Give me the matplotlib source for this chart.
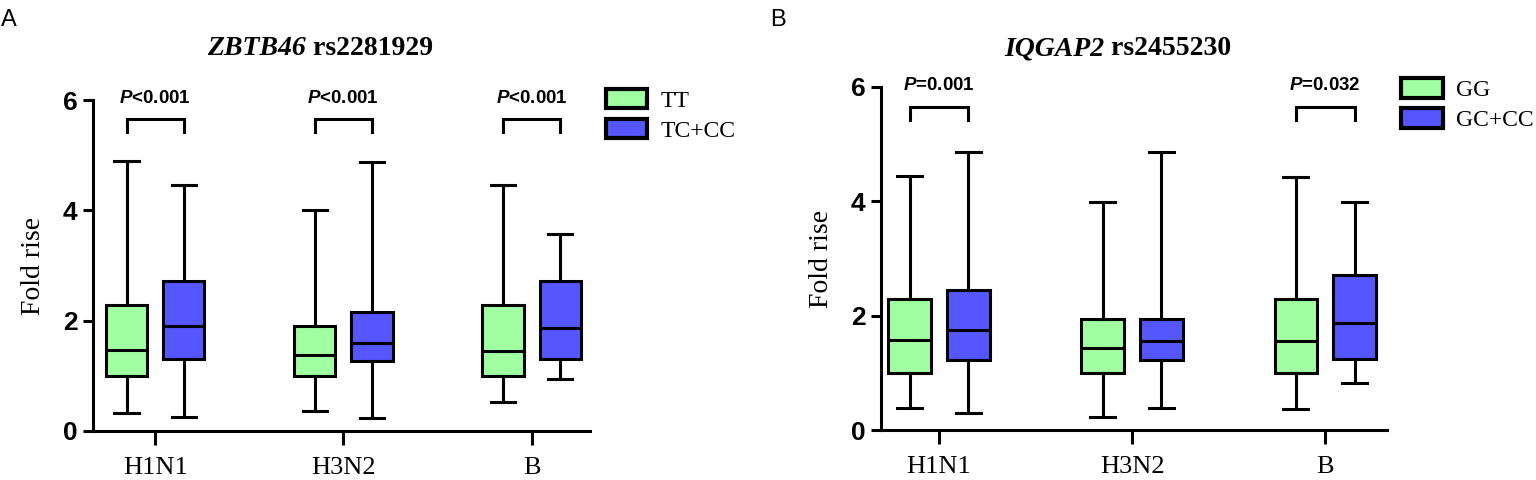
import matplotlib
matplotlib.use("Agg")
import matplotlib.pyplot as plt
from matplotlib.patches import Patch

# categories / groups
groups = ["H1N1", "H3N2", "B"]

# panel A: ZBTB46 rs2281929  (whisker low, Q1, median, Q3, whisker high)
a_tt_low = [0.32, 0.37, 0.52]
a_tt_q1 = [1.00, 1.00, 1.00]
a_tt_med = [1.47, 1.38, 1.45]
a_tt_q3 = [2.29, 1.91, 2.29]
a_tt_high = [4.89, 4.00, 4.46]

a_tc_low = [0.25, 0.23, 0.94]
a_tc_q1 = [1.30, 1.27, 1.31]
a_tc_med = [1.90, 1.59, 1.86]
a_tc_q3 = [2.72, 2.16, 2.72]
a_tc_high = [4.46, 4.88, 3.58]

a_pvals = ["<0.001", "<0.001", "<0.001"]

# panel B: IQGAP2 rs2455230
b_gg_low = [0.38, 0.23, 0.37]
b_gg_q1 = [1.00, 1.00, 1.00]
b_gg_med = [1.57, 1.44, 1.56]
b_gg_q3 = [2.29, 1.94, 2.29]
b_gg_high = [4.44, 3.99, 4.43]

b_gc_low = [0.29, 0.38, 0.82]
b_gc_q1 = [1.22, 1.22, 1.25]
b_gc_med = [1.75, 1.56, 1.87]
b_gc_q3 = [2.45, 1.94, 2.71]
b_gc_high = [4.87, 4.87, 3.99]

b_pvals = ["=0.001", None, "=0.032"]

GREEN = "#a0ffa0"
BLUE = "#5656ff"
LW = 2.2

plt.rcParams["mathtext.fontset"] = "custom"
plt.rcParams["mathtext.rm"] = "Liberation Sans:bold"
plt.rcParams["mathtext.it"] = "Liberation Sans:bold:italic"
plt.rcParams["mathtext.bf"] = "Liberation Sans:bold"

serif = "Liberation Serif"
narrow = ["Liberation Sans Narrow", "Liberation Sans"]

fig = plt.figure(figsize=(15.36, 4.8), dpi=100)


def stats(low, q1, med, q3, high):
    out = []
    for i in range(len(low)):
        out.append({"whislo": low[i], "q1": q1[i], "med": med[i],
                    "q3": q3[i], "whishi": high[i], "fliers": []})
    return out


def panel(rect, s1, s2, pvals, xlim):
    ax = fig.add_axes(rect)
    pos = list(range(len(groups)))
    for st, off, col in [(s1, -0.152, GREEN), (s2, 0.152, BLUE)]:
        ax.bxp(st, positions=[p + off for p in pos], widths=0.22,
               patch_artist=True, showfliers=False, capwidths=0.13,
               boxprops=dict(facecolor=col, edgecolor="black", linewidth=LW),
               medianprops=dict(color="black", linewidth=LW),
               whiskerprops=dict(color="black", linewidth=LW),
               capprops=dict(color="black", linewidth=LW),
               manage_ticks=False)
    # significance brackets
    for p, pv in zip(pos, pvals):
        if pv is None:
            continue
        ax.plot([p - 0.152, p - 0.152, p + 0.152, p + 0.152],
                [5.42, 5.65, 5.65, 5.42], color="black", lw=LW,
                clip_on=False, solid_joinstyle="miter")
        ax.text(p, 5.95, r"$\it{P}$" + pv, ha="center",
                va="baseline", fontsize=13.5, fontweight="bold",
                family="Liberation Sans", clip_on=False)
    ax.set_xlim(*xlim)
    ax.set_ylim(0, 6)
    ax.set_yticks([0, 2, 4, 6])
    ax.set_xticks(pos)
    ax.set_xticklabels(groups, family=serif, fontsize=19)
    for t in ax.get_yticklabels():
        t.set_family(narrow)
        t.set_fontweight("bold")
        t.set_fontsize(19)
    ax.tick_params(axis="x", length=10, width=LW, pad=9)
    ax.tick_params(axis="y", length=7, width=LW, pad=4)
    for side in ["top", "right"]:
        ax.spines[side].set_visible(False)
    for side in ["left", "bottom"]:
        ax.spines[side].set_linewidth(LW)
    ax.set_ylabel("Fold rise", family=serif, fontsize=20, labelpad=12)
    handles = [Patch(facecolor=GREEN, edgecolor="black", linewidth=3),
               Patch(facecolor=BLUE, edgecolor="black", linewidth=3)]
    return ax, handles


axA, hA = panel([93 / 1536, 1 - 431 / 480, 497 / 1536, 331 / 480],
                stats(a_tt_low, a_tt_q1, a_tt_med, a_tt_q3, a_tt_high),
                stats(a_tc_low, a_tc_q1, a_tc_med, a_tc_q3, a_tc_high),
                a_pvals, (-0.33, 2.31))
axA.legend(hA, ["TT", "TC+CC"], loc="upper left",
           bbox_to_anchor=(1.008, 1.07), frameon=False, borderpad=0,
           handlelength=1.75, handleheight=0.9, labelspacing=0.3,
           handletextpad=0.55, prop=dict(family=serif, size=17))

axB, hB = panel([881 / 1536, 1 - 430 / 480, 506 / 1536, 343 / 480],
                stats(b_gg_low, b_gg_q1, b_gg_med, b_gg_q3, b_gg_high),
                stats(b_gc_low, b_gc_q1, b_gc_med, b_gc_q3, b_gc_high),
                b_pvals, (-0.30, 2.32))
axB.legend(hB, ["GG", "GC+CC"], loc="upper left",
           bbox_to_anchor=(1.005, 1.06), frameon=False, borderpad=0,
           handlelength=1.75, handleheight=0.9, labelspacing=0.3,
           handletextpad=0.55, prop=dict(family=serif, size=17))

# titles: italic gene name + plain rs id
for gx, gene, rs in [(306, "ZBTB46", " rs2281929"), (1104, "IQGAP2", " rs2455230")]:
    g = fig.text(gx / 1536, 1 - 55 / 480, gene, ha="right", va="baseline",
                 family=serif, fontsize=20, fontweight="bold", style="italic")
    plt.annotate(rs, xy=(1, 0), xycoords=g, ha="left", va="bottom",
                 family=serif, fontsize=20, fontweight="bold")

# panel letters
fig.text(1 / 1536, 1 - 26 / 480, "A", family="Liberation Sans", fontsize=17)
fig.text(770 / 1536, 1 - 26 / 480, "B", family="Liberation Sans", fontsize=17)

fig.savefig("out.png", dpi=100)
